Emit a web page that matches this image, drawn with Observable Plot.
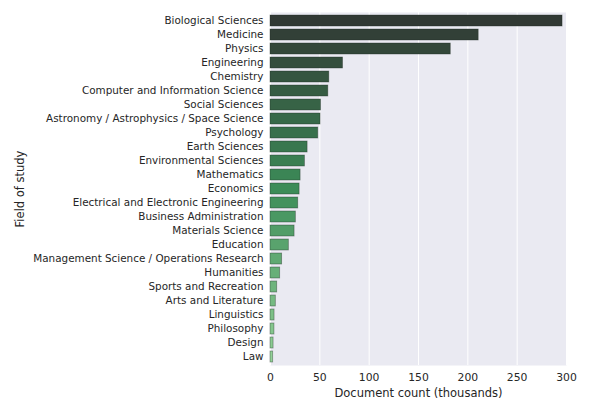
<!DOCTYPE html>
<html>
<head>
<meta charset="utf-8">
<script src="https://cdn.jsdelivr.net/npm/d3@7"></script>
<script src="https://cdn.jsdelivr.net/npm/@observablehq/plot@0.6"></script>
<style>
  html, body { margin: 0; padding: 0; background: #fff; }
  svg { display: block; }
</style>
</head>
<body>
<div id="chart"></div>
<script>
const fields = [
  "Biological Sciences", "Medicine", "Physics", "Engineering", "Chemistry",
  "Computer and Information Science", "Social Sciences",
  "Astronomy / Astrophysics / Space Science", "Psychology", "Earth Sciences",
  "Environmental Sciences", "Mathematics", "Economics",
  "Electrical and Electronic Engineering", "Business Administration",
  "Materials Science", "Education", "Management Science / Operations Research",
  "Humanities", "Sports and Recreation", "Arts and Literature", "Linguistics",
  "Philosophy", "Design", "Law"
];
const counts = [
  296, 211, 182.7, 73.5, 59.6,
  58.6, 51.2,
  50.7, 48.4, 37.6,
  34.9, 30.5, 29.5,
  28.1, 25.7,
  24.4, 18.6, 11.8,
  9.8, 6.8, 5.4, 4.1,
  4.0, 3.1, 2.7
];
const xTicks = [0, 50, 100, 150, 200, 250, 300];
const xLabel = "Document count (thousands)";
const yLabel = "Field of study";

const data = fields.map((f, i) => ({field: f, count: counts[i], rank: i}));

const chart = Plot.plot({
  width: 600,
  height: 413,
  marginLeft: 270,
  marginRight: 34,
  marginTop: 12,
  marginBottom: 48,
  style: {fontFamily: "DejaVu Sans", fontSize: "10.4px", color: "#262626", background: "#fff"},
  x: {domain: [0, 300]},
  y: {domain: fields, paddingInner: 0.2, paddingOuter: 0.1},
  color: {type: "linear", domain: [0, 12, 24], range: ["#313934", "#3c8c58", "#92d197"]},
  marks: [
    Plot.frame({fill: "#EAEAF2", stroke: null}),
    Plot.gridX(xTicks, {stroke: "#fff", strokeOpacity: 1, strokeWidth: 1}),
    Plot.barX(data, {y: "field", x: "count", fill: "rank", stroke: "#1e2a22", strokeOpacity: 0.45, strokeWidth: 0.8}),
    Plot.axisX({ticks: xTicks, tickSize: 0, tickPadding: 8, fontSize: 10.8, label: null}),
    Plot.axisY({tickSize: 0, tickPadding: 7, fontSize: 10.4, label: null}),
    Plot.text([xLabel], {frameAnchor: "bottom", dy: 28, lineAnchor: "middle", textAnchor: "middle", fontSize: 11.5, fill: "#262626"}),
    Plot.text([yLabel], {frameAnchor: "left", dx: -250, rotate: -90, lineAnchor: "middle", textAnchor: "middle", fontSize: 11.5, fill: "#262626"})
  ]
});
document.getElementById("chart").appendChild(chart);
</script>
</body>
</html>
